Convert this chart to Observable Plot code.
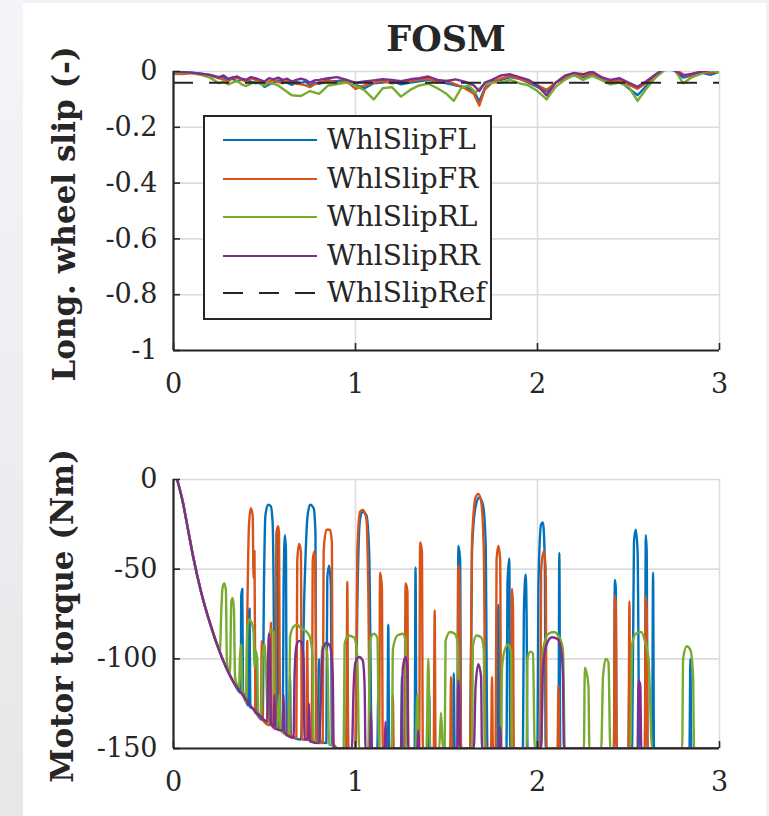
<!DOCTYPE html>
<html><head><meta charset="utf-8">
<script src="https://cdn.jsdelivr.net/npm/d3@7"></script>
<script src="https://cdn.jsdelivr.net/npm/@observablehq/plot@0.6"></script>
<style>
html,body{margin:0;padding:0;}
body{width:769px;height:816px;background:#f0f1f4;position:relative;overflow:hidden;font-family:"DejaVu Serif",serif;color:#262626;}
#bgL{position:absolute;left:0;top:0;width:23px;height:816px;background:linear-gradient(#f4f5f8,#e6e7e9);}
#panel{position:absolute;left:23px;top:3px;width:743px;height:813px;background:#fff;}
.plot{position:absolute;left:0;}
.ylab{position:absolute;font-weight:bold;font-size:31px;white-space:nowrap;transform:translate(-50%,-50%) rotate(-90deg);}
#title{position:absolute;left:446px;top:38px;transform:translate(-50%,-50%);font-weight:bold;font-size:35px;white-space:nowrap;}
#legend{position:absolute;left:203px;top:115px;width:285px;height:201px;border:2px solid #262626;background:#fff;}
.row{position:absolute;left:0;height:38px;width:285px;}
.row svg{position:absolute;left:17px;top:17px;}
.row span{position:absolute;left:122px;top:0;line-height:38px;font-size:28px;white-space:nowrap;}
</style>
</head><body>
<div id="bgL"></div>
<div id="panel"></div>
<div id="p1" class="plot" style="top:0"></div>
<div id="p2" class="plot" style="top:405px"></div>
<div id="title">FOSM</div>
<div class="ylab" style="left:64px;top:214px">Long.  wheel slip (-)</div>
<div class="ylab" style="left:62px;top:616px">Motor torque (Nm)</div>
<div id="legend"></div>
<script>
// ---------- data ----------
const seriesNames = ["WhlSlipFL","WhlSlipFR","WhlSlipRL","WhlSlipRR"];
const refName = "WhlSlipRef";
const xTicks = [0,1,2,3];
const xTickLabels = ["0","1","2","3"];
const slipTicks = [-1,-0.8,-0.6,-0.4,-0.2,0];
const slipTickLabels = ["-1","-0.8","-0.6","-0.4","-0.2","0"];
const torqueTicks = [-150,-100,-50,0];
const torqueTickLabels = ["-150","-100","-50","0"];
const slipRef = -0.04;

const slipFL = [[0,0],[0.05,-0.004],[0.1,-0.004],[0.15,-0.008],[0.2,-0.012],[0.25,-0.025],[0.275,-0.02],[0.3,-0.03],[0.325,-0.026],[0.35,-0.036],[0.375,-0.028],[0.4,-0.03],[0.425,-0.036],[0.45,-0.042],[0.475,-0.038],[0.5,-0.055],[0.525,-0.046],[0.55,-0.04],[0.575,-0.032],[0.6,-0.035],[0.625,-0.04],[0.65,-0.048],[0.675,-0.038],[0.7,-0.042],[0.725,-0.036],[0.75,-0.05],[0.775,-0.04],[0.8,-0.044],[0.85,-0.036],[0.9,-0.034],[0.95,-0.03],[1.0,-0.048],[1.05,-0.06],[1.1,-0.042],[1.15,-0.04],[1.2,-0.034],[1.25,-0.046],[1.3,-0.04],[1.35,-0.035],[1.4,-0.03],[1.45,-0.036],[1.5,-0.042],[1.55,-0.05],[1.6,-0.055],[1.65,-0.07],[1.68,-0.108],[1.71,-0.06],[1.75,-0.036],[1.8,-0.03],[1.85,-0.02],[1.9,-0.026],[1.95,-0.04],[2.0,-0.055],[2.05,-0.072],[2.1,-0.04],[2.15,-0.025],[2.2,-0.014],[2.25,-0.02],[2.3,-0.01],[2.35,-0.026],[2.4,-0.04],[2.45,-0.032],[2.5,-0.06],[2.55,-0.085],[2.6,-0.05],[2.65,-0.02],[2.7,0.01],[2.75,0.004],[2.8,-0.022],[2.85,-0.015],[2.9,-0.004],[2.95,-0.012],[3.0,0]];
const slipFR = [[0,-0.008],[0.05,-0.009],[0.1,-0.006],[0.15,-0.01],[0.2,-0.016],[0.25,-0.022],[0.275,-0.03],[0.3,-0.036],[0.325,-0.02],[0.35,-0.024],[0.375,-0.03],[0.4,-0.036],[0.425,-0.024],[0.45,-0.03],[0.475,-0.04],[0.5,-0.046],[0.525,-0.036],[0.55,-0.03],[0.575,-0.038],[0.6,-0.042],[0.625,-0.034],[0.65,-0.038],[0.675,-0.044],[0.7,-0.046],[0.725,-0.05],[0.75,-0.056],[0.775,-0.046],[0.8,-0.04],[0.85,-0.03],[0.9,-0.042],[0.95,-0.034],[1.0,-0.062],[1.05,-0.05],[1.1,-0.04],[1.15,-0.034],[1.2,-0.042],[1.25,-0.038],[1.3,-0.034],[1.35,-0.03],[1.4,-0.026],[1.45,-0.04],[1.5,-0.034],[1.55,-0.046],[1.6,-0.06],[1.65,-0.08],[1.68,-0.122],[1.71,-0.065],[1.75,-0.04],[1.8,-0.025],[1.85,-0.016],[1.9,-0.026],[1.95,-0.036],[2.0,-0.05],[2.05,-0.066],[2.1,-0.04],[2.15,-0.02],[2.2,-0.01],[2.25,-0.016],[2.3,-0.006],[2.35,-0.02],[2.4,-0.036],[2.45,-0.03],[2.5,-0.046],[2.55,-0.062],[2.6,-0.04],[2.65,-0.016],[2.7,0.008],[2.75,0.01],[2.8,-0.01],[2.85,-0.02],[2.9,0],[2.95,-0.006],[3.0,0.005]];
const slipRL = [[0,-0.003],[0.05,-0.005],[0.1,-0.006],[0.15,-0.012],[0.2,-0.022],[0.25,-0.042],[0.275,-0.036],[0.3,-0.046],[0.325,-0.04],[0.35,-0.034],[0.375,-0.046],[0.4,-0.052],[0.425,-0.044],[0.45,-0.036],[0.475,-0.044],[0.5,-0.05],[0.525,-0.04],[0.55,-0.044],[0.575,-0.05],[0.6,-0.062],[0.65,-0.085],[0.7,-0.088],[0.75,-0.07],[0.8,-0.08],[0.85,-0.05],[0.9,-0.045],[0.95,-0.04],[1.0,-0.05],[1.05,-0.068],[1.1,-0.1],[1.15,-0.06],[1.2,-0.056],[1.25,-0.09],[1.3,-0.066],[1.35,-0.05],[1.4,-0.044],[1.45,-0.06],[1.5,-0.08],[1.54,-0.105],[1.58,-0.06],[1.62,-0.05],[1.66,-0.075],[1.7,-0.05],[1.75,-0.04],[1.8,-0.04],[1.85,-0.03],[1.9,-0.042],[1.95,-0.05],[2.0,-0.07],[2.05,-0.1],[2.1,-0.055],[2.15,-0.03],[2.2,-0.012],[2.25,-0.03],[2.3,-0.016],[2.35,-0.03],[2.4,-0.046],[2.45,-0.04],[2.5,-0.055],[2.55,-0.105],[2.6,-0.06],[2.65,-0.02],[2.7,0.005],[2.75,0.01],[2.8,-0.042],[2.85,-0.02],[2.9,-0.008],[2.95,0.006],[3.0,-0.004]];
const slipRR = [[0,0.002],[0.05,-0.002],[0.1,-0.004],[0.15,-0.008],[0.2,-0.012],[0.25,-0.02],[0.275,-0.014],[0.3,-0.026],[0.325,-0.022],[0.35,-0.018],[0.375,-0.026],[0.4,-0.03],[0.425,-0.02],[0.45,-0.024],[0.475,-0.03],[0.5,-0.036],[0.525,-0.024],[0.55,-0.028],[0.575,-0.022],[0.6,-0.03],[0.625,-0.026],[0.65,-0.036],[0.675,-0.03],[0.7,-0.026],[0.725,-0.03],[0.75,-0.04],[0.775,-0.032],[0.8,-0.03],[0.85,-0.024],[0.9,-0.02],[0.95,-0.03],[1.0,-0.04],[1.05,-0.036],[1.1,-0.032],[1.15,-0.028],[1.2,-0.03],[1.25,-0.035],[1.3,-0.028],[1.35,-0.024],[1.4,-0.018],[1.45,-0.03],[1.5,-0.034],[1.55,-0.028],[1.6,-0.036],[1.65,-0.05],[1.68,-0.07],[1.71,-0.04],[1.75,-0.03],[1.8,-0.014],[1.85,-0.01],[1.9,-0.02],[1.95,-0.03],[2.0,-0.05],[2.05,-0.086],[2.1,-0.04],[2.15,-0.015],[2.2,-0.005],[2.25,-0.01],[2.3,0],[2.35,-0.02],[2.4,-0.03],[2.45,-0.024],[2.5,-0.04],[2.55,-0.055],[2.6,-0.034],[2.65,-0.01],[2.7,0.012],[2.75,0.005],[2.8,-0.014],[2.85,-0.008],[2.9,0],[2.95,0.005],[3.0,0.008]];

const torqueRamp = [[0.02,0],[0.05,-12],[0.08,-28],[0.11,-44],[0.15,-62],[0.2,-80],[0.25,-95]];
const torqueFL = [[0.29,-105],[0.33,-113],[0.37,-119],[0.372,-65],[0.378,-61],[0.382,-118],[0.4,-124],[0.41,-126],[0.413,-75],[0.418,-72],[0.422,-127],[0.44,-128],[0.45,-130],[0.455,-100],[0.46,-131],[0.49,-134],[0.497,-60],[0.505,-20],[0.52,-14],[0.535,-15],[0.545,-25],[0.55,-60],[0.555,-137],[0.565,-139],[0.57,-30],[0.575,-45],[0.58,-139],[0.6,-140],[0.605,-60],[0.612,-31],[0.618,-40],[0.622,-141],[0.635,-142],[0.64,-110],[0.645,-143],[0.7,-145],[0.72,-60],[0.735,-22],[0.75,-14],[0.77,-16],[0.78,-30],[0.785,-145],[0.795,-146],[0.8,-100],[0.805,-146],[0.84,-147],[0.845,-55],[0.855,-48],[0.865,-60],[0.87,-148],[0.9,-150],[0.95,-150],[0.955,-100],[0.96,-150],[1.0,-150],[1.01,-70],[1.025,-22],[1.04,-18],[1.06,-20],[1.075,-40],[1.09,-150],[1.12,-150],[1.125,-120],[1.13,-150],[1.175,-150],[1.18,-81],[1.185,-150],[1.25,-150],[1.255,-110],[1.26,-150],[1.325,-150],[1.33,-49],[1.335,-150],[1.4,-150],[1.405,-120],[1.41,-150],[1.535,-150],[1.54,-108],[1.545,-150],[1.56,-150],[1.565,-37],[1.575,-45],[1.58,-150],[1.63,-150],[1.64,-40],[1.66,-15],[1.68,-10],[1.7,-14],[1.715,-35],[1.725,-150],[1.78,-150],[1.785,-70],[1.79,-150],[1.83,-150],[1.835,-58],[1.845,-44],[1.85,-150],[1.92,-150],[1.925,-75],[1.935,-53],[1.94,-75],[1.945,-150],[2.0,-150],[2.005,-60],[2.02,-25],[2.03,-24],[2.04,-45],[2.045,-150],[2.115,-150],[2.12,-41],[2.125,-150],[2.42,-150],[2.425,-56],[2.43,-60],[2.435,-150],[2.5,-150],[2.505,-110],[2.51,-150],[2.52,-150],[2.53,-35],[2.54,-28],[2.55,-40],[2.56,-150],[2.59,-150],[2.595,-31],[2.6,-40],[2.605,-150],[2.63,-150],[2.635,-52],[2.64,-150],[2.835,-150],[2.84,-100],[2.845,-150],[3.0,-150]];
const torqueFR = [[0.29,-105],[0.33,-113],[0.38,-120],[0.4,-124],[0.405,-80],[0.415,-25],[0.425,-16],[0.435,-20],[0.44,-55],[0.445,-40],[0.45,-130],[0.46,-131],[0.47,-132],[0.48,-133],[0.485,-90],[0.49,-134],[0.53,-137],[0.535,-80],[0.54,-137],[0.56,-139],[0.565,-30],[0.575,-26],[0.58,-30],[0.585,-139],[0.63,-142],[0.635,-120],[0.64,-142],[0.675,-144],[0.68,-45],[0.69,-36],[0.7,-40],[0.705,-145],[0.73,-145],[0.735,-90],[0.74,-145],[0.76,-146],[0.765,-45],[0.775,-40],[0.78,-50],[0.785,-146],[0.82,-147],[0.825,-40],[0.84,-28],[0.86,-28],[0.87,-35],[0.875,-148],[0.88,-148],[0.9,-150],[0.95,-150],[0.955,-57],[0.96,-150],[1.0,-150],[1.01,-40],[1.025,-18],[1.04,-17],[1.06,-22],[1.07,-60],[1.08,-150],[1.13,-150],[1.135,-52],[1.145,-60],[1.15,-150],[1.2,-150],[1.205,-120],[1.21,-150],[1.27,-150],[1.275,-58],[1.285,-62],[1.29,-150],[1.35,-150],[1.355,-35],[1.365,-40],[1.37,-150],[1.43,-150],[1.435,-73],[1.44,-150],[1.52,-150],[1.525,-110],[1.53,-150],[1.56,-150],[1.565,-48],[1.57,-52],[1.58,-150],[1.63,-150],[1.64,-35],[1.66,-10],[1.675,-8],[1.69,-12],[1.705,-40],[1.715,-150],[1.745,-150],[1.75,-110],[1.755,-150],[1.77,-150],[1.775,-45],[1.785,-37],[1.795,-45],[1.8,-150],[1.855,-150],[1.86,-61],[1.865,-70],[1.87,-150],[2.015,-150],[2.02,-50],[2.035,-40],[2.045,-50],[2.05,-150],[2.11,-150],[2.115,-115],[2.12,-150],[2.42,-150],[2.425,-65],[2.43,-70],[2.435,-150],[2.5,-150],[2.505,-68],[2.51,-150],[2.59,-150],[2.595,-65],[2.6,-75],[2.605,-150],[3.0,-150]];
const torqueRL = [[0.255,-96],[0.262,-75],[0.27,-60],[0.28,-58],[0.288,-62],[0.293,-100],[0.3,-106],[0.31,-108],[0.318,-68],[0.325,-66],[0.332,-72],[0.338,-110],[0.35,-115],[0.36,-117],[0.365,-100],[0.372,-92],[0.378,-118],[0.39,-122],[0.4,-124],[0.405,-85],[0.415,-78],[0.43,-80],[0.44,-85],[0.445,-105],[0.45,-95],[0.46,-100],[0.465,-130],[0.48,-132],[0.49,-98],[0.5,-92],[0.51,-110],[0.52,-136],[0.525,-88],[0.535,-84],[0.55,-85],[0.555,-138],[0.57,-139],[0.58,-120],[0.59,-140],[0.6,-141],[0.635,-143],[0.64,-88],[0.66,-82],[0.68,-81],[0.7,-83],[0.72,-84],[0.74,-86],[0.75,-88],[0.765,-100],[0.77,-146],[0.78,-146],[0.8,-147],[0.81,-110],[0.82,-92],[0.835,-93],[0.845,-98],[0.855,-148],[0.87,-148],[0.9,-150],[0.935,-150],[0.94,-92],[0.96,-87],[0.99,-88],[1.0,-90],[1.01,-100],[1.02,-150],[1.07,-150],[1.08,-90],[1.1,-86],[1.12,-88],[1.13,-150],[1.2,-150],[1.205,-95],[1.23,-87],[1.26,-86],[1.275,-90],[1.28,-150],[1.33,-150],[1.34,-120],[1.35,-150],[1.39,-150],[1.4,-100],[1.41,-150],[1.46,-150],[1.47,-130],[1.48,-150],[1.49,-150],[1.495,-90],[1.52,-85],[1.545,-86],[1.56,-90],[1.575,-150],[1.64,-150],[1.645,-93],[1.665,-87],[1.69,-88],[1.705,-95],[1.71,-150],[1.8,-150],[1.805,-105],[1.82,-95],[1.84,-92],[1.855,-96],[1.86,-150],[1.94,-150],[1.945,-100],[1.96,-96],[1.975,-97],[1.985,-150],[2.02,-150],[2.03,-95],[2.06,-86],[2.09,-85],[2.12,-88],[2.14,-95],[2.15,-150],[2.255,-150],[2.26,-105],[2.27,-108],[2.28,-115],[2.285,-150],[2.35,-150],[2.36,-110],[2.375,-100],[2.39,-102],[2.4,-150],[2.51,-150],[2.52,-92],[2.54,-86],[2.57,-85],[2.59,-90],[2.61,-100],[2.63,-150],[2.795,-150],[2.8,-100],[2.82,-93],[2.84,-95],[2.855,-110],[2.86,-150],[3.0,-150]];
const torqueRR = [[0.29,-105],[0.33,-113],[0.38,-120],[0.43,-127],[0.477,-132],[0.515,-135],[0.52,-100],[0.525,-86],[0.53,-95],[0.535,-136],[0.55,-138],[0.555,-120],[0.56,-139],[0.6,-140],[0.605,-120],[0.61,-141],[0.66,-144],[0.665,-110],[0.675,-93],[0.69,-90],[0.705,-91],[0.715,-100],[0.72,-145],[0.74,-145],[0.745,-125],[0.75,-146],[0.8,-147],[0.81,-120],[0.82,-95],[0.84,-91],[0.86,-93],[0.875,-110],[0.88,-148],[0.89,-150],[0.98,-150],[0.99,-115],[1.0,-102],[1.02,-99],[1.04,-101],[1.05,-115],[1.055,-150],[1.08,-150],[1.085,-130],[1.09,-150],[1.16,-150],[1.165,-135],[1.17,-150],[1.25,-150],[1.26,-105],[1.275,-99],[1.285,-105],[1.29,-150],[1.34,-150],[1.345,-140],[1.35,-150],[1.56,-150],[1.565,-112],[1.57,-120],[1.575,-150],[1.65,-150],[1.66,-115],[1.675,-103],[1.69,-110],[1.695,-150],[1.79,-150],[1.795,-138],[1.8,-150],[2.02,-150],[2.03,-105],[2.05,-92],[2.08,-88],[2.11,-89],[2.13,-95],[2.14,-110],[2.145,-150],[2.55,-150],[2.555,-112],[2.565,-115],[2.57,-150],[3.0,-150]];

// ---------- styles ----------
const seriesColors = ["#0072BD","#D95319","#77AC30","#7E2F8E"];
const ink = "#262626";
const gridColor = "#dcdcdc";
const dash = "20,16";

const slipSeries = [slipFL, slipFR, slipRL, slipRR];
const torqueSeries = [torqueFL, torqueFR, torqueRL, torqueRR].map(s => torqueRamp.concat(s));

const lbl = (ticks, labels) => d => labels[ticks.indexOf(d)];

function panel({yDomain, yTicks, yLabels, series, ref, height, marginTop, marginBottom, curve}) {
  const marks = [
    Plot.gridX(xTicks, {stroke: gridColor, strokeOpacity: 1, strokeWidth: 1.6}),
    Plot.gridY(yTicks, {stroke: gridColor, strokeOpacity: 1, strokeWidth: 1.6}),
    ...series.map((s, i) => Plot.line(s, {x: d => d[0], y: d => d[1], stroke: seriesColors[i], strokeWidth: 2.4, clip: true, curve}))
  ];
  if (ref !== undefined) marks.push(Plot.ruleY([ref], {stroke: ink, strokeWidth: 2, strokeDasharray: dash}));
  marks.push(
    Plot.ruleX([xTicks[0]], {stroke: ink, strokeWidth: 2.2}),
    Plot.ruleY([yDomain[0]], {stroke: ink, strokeWidth: 2.2}),
    Plot.axisY(yTicks, {tickSize: -7, tickPadding: 23, strokeWidth: 1.6, tickFormat: lbl(yTicks, yLabels), label: null}),
    Plot.axisX(xTicks, {tickSize: -7, tickPadding: 30, strokeWidth: 1.6, tickFormat: lbl(xTicks, xTickLabels), label: null})
  );
  return Plot.plot({
    width: 769, height, marginLeft: 173, marginRight: 50, marginTop, marginBottom,
    x: {domain: [0, 3]},
    y: {domain: yDomain},
    style: {fontFamily: "DejaVu Serif", fontSize: "27px", color: ink, background: "transparent", overflow: "visible"},
    marks
  });
}

document.getElementById("p1").append(panel({yDomain: [-1, 0], yTicks: slipTicks, yLabels: slipTickLabels, series: slipSeries, ref: slipRef, height: 405, marginTop: 71, marginBottom: 55, curve: "linear"}));
document.getElementById("p2").append(panel({yDomain: [-150, 0], yTicks: torqueTicks, yLabels: torqueTickLabels, series: torqueSeries, height: 411, marginTop: 74, marginBottom: 68, curve: "monotone-x"}));

// legend
const legend = document.getElementById("legend");
const rowTops = [4, 43, 81, 120, 157];
seriesNames.concat([refName]).forEach((name, i) => {
  const row = document.createElement("div");
  row.className = "row";
  row.style.top = rowTops[i] + "px";
  const isRef = i === seriesNames.length;
  row.innerHTML = `<svg width="96" height="4"><line x1="1" y1="2" x2="95" y2="2" stroke="${isRef ? ink : seriesColors[i]}" stroke-width="2.2" ${isRef ? `stroke-dasharray="${dash}"` : ""}/></svg><span>${name}</span>`;
  legend.append(row);
});
</script>
</body></html>
